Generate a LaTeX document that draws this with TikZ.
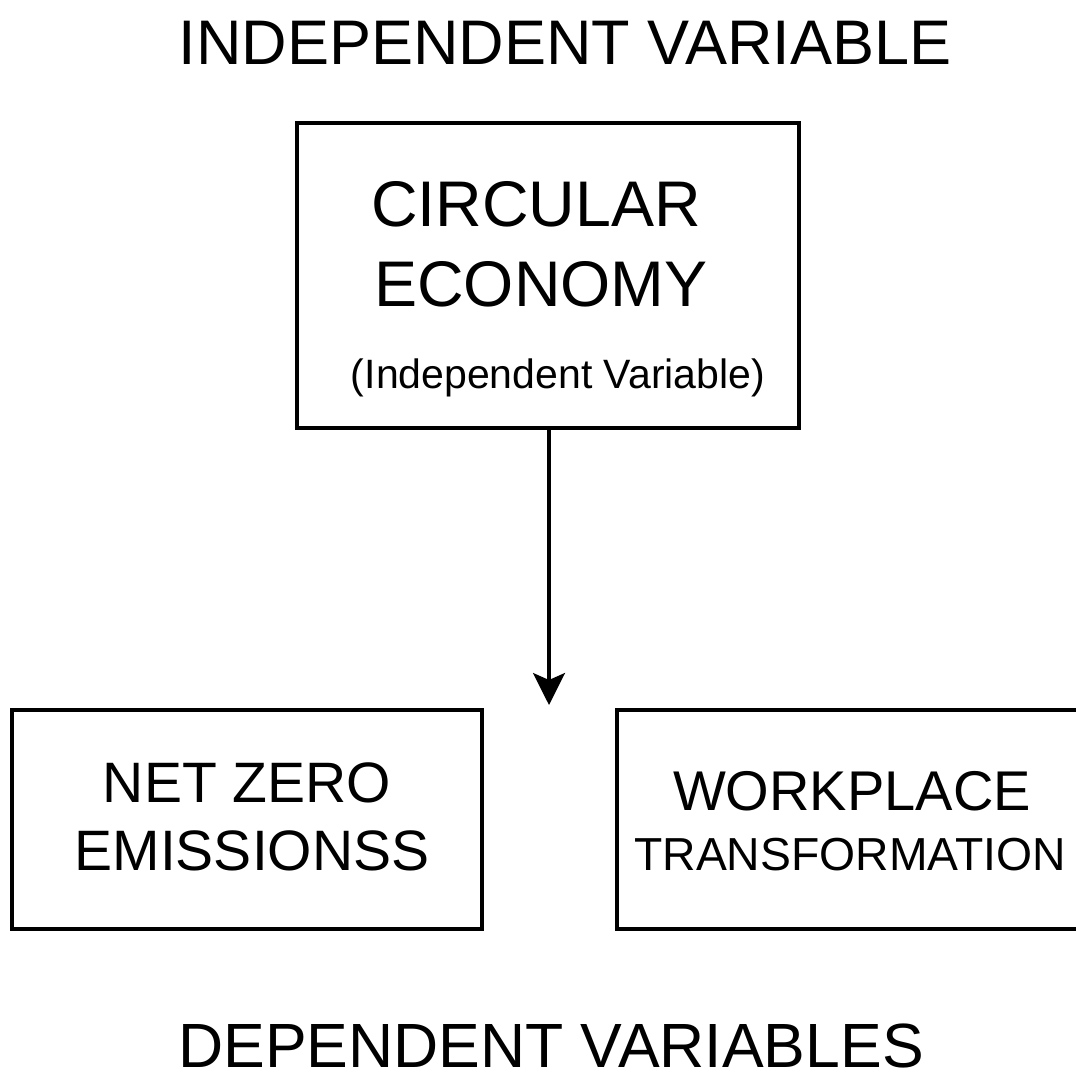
\documentclass[tikz,border=0pt]{standalone}
\usepackage{fontspec}
\setmainfont{Liberation Sans}
\usetikzlibrary{arrows.meta}
\newcommand{\fsz}[1]{\fontsize{#1}{#1}\selectfont}
\tikzset{
  box/.style={draw=black, line width=3.5pt, fill=none},
  lbl/.style={anchor=base, inner sep=0pt, text=black},
  link/.style={draw=black, line width=3.2pt, -{Stealth[length=32pt, width=32pt, inset=7pt]}}
}
\begin{document}
\begin{tikzpicture}[x=1pt, y=-1pt]
  % page frame
  \useasboundingbox (0,0) rectangle (1076,1075);
  \fill[white] (0,0) rectangle (1076,1075);

  % headings
  \node[lbl, font=\fsz{63}] (indephead) at (565,65) {INDEPENDENT VARIABLE};
  \node[lbl, font=\fsz{62.5}] (dephead) at (551,1067) {DEPENDENT VARIABLES};

  % independent variable box
  \draw[box] (297,123) rectangle (799,428);
  \coordinate (cebot) at (549,428);
  \node[lbl, font=\fsz{64.5}] (ce1) at (536,227) {CIRCULAR};
  \node[lbl, font=\fsz{64.5}] (ce2) at (541,307) {ECONOMY};
  \node[lbl, font=\fsz{41}] (ce3) at (558,388) {(Independent Variable)};

  % dependent variable boxes (right one runs past the page edge)
  \draw[box] (12,710) rectangle (482,929);
  \draw[box] (1090,710) -- (617,710) -- (617,929) -- (1090,929);
  \node[lbl, font=\fsz{57}] (nz1) at (247,802) {NET ZERO};
  \node[lbl, font=\fsz{57}] (nz2) at (252,870) {EMISSIONSS};
  \node[lbl, font=\fsz{56}] (wt1) at (852,810) {WORKPLACE};
  \node[lbl, font=\fsz{46.3}] (wt2) at (850,870) {TRANSFORMATION};

  % causal link
  \coordinate (tip) at (549,705);
  \draw[link] (cebot) -- (tip);
\end{tikzpicture}
\end{document}
